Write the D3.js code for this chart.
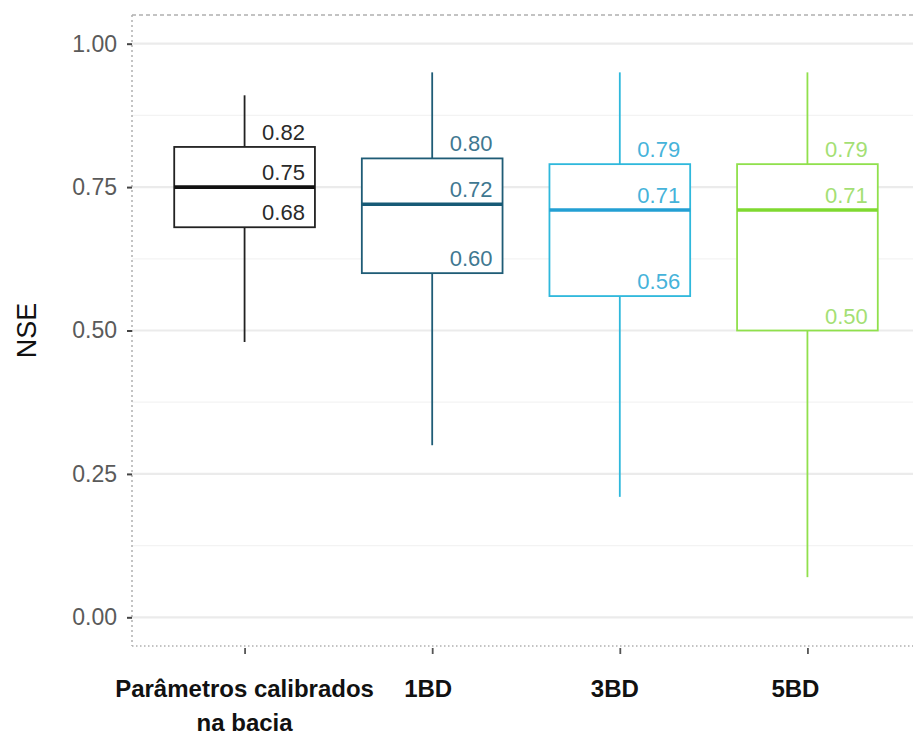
<!DOCTYPE html>
<html>
<head>
<meta charset="utf-8">
<script src="https://cdn.jsdelivr.net/npm/d3@7"></script>
<style>
  html, body { margin: 0; padding: 0; background: #fff; }
  svg { display: block; }
</style>
</head>
<body>
<svg id="chart" width="913" height="736"></svg>
<script>
// NSE distribution per parameter set
const categories = ["Parâmetros calibrados na bacia", "1BD", "3BD", "5BD"];
const categoryLines = [["Parâmetros calibrados", "na bacia"], ["1BD"], ["3BD"], ["5BD"]];
const whiskerLow  = [0.48, 0.30, 0.21, 0.07];
const q1          = [0.68, 0.60, 0.56, 0.50];
const medians     = [0.75, 0.72, 0.71, 0.71];
const q3          = [0.82, 0.80, 0.79, 0.79];
const whiskerHigh = [0.91, 0.95, 0.95, 0.95];
const yTicks      = [0, 0.25, 0.5, 0.75, 1];
const yMinorTicks = [0.125, 0.375, 0.625, 0.875];

const strokeColors = ["#222222", "#1f5c76", "#2fb8dc", "#90e04c"];
const medianColors = ["#111111", "#175a76", "#239fd3", "#7fd930"];
const labelColors  = ["#2a2a2a", "#3f7891", "#46b3da", "#a4df74"];
// small horizontal nudges of the category captions under their ticks
const captionNudge = [0, -4, -5, -12];

const svg = d3.select("#chart");

const panel = { left: 132, right: 920, top: 15, bottom: 646 };

const x = d3.scalePoint()
  .domain(categories)
  .range([panel.left, panel.right])
  .padding(0.6);

const y = d3.scaleLinear()
  .domain([-0.05, 1.05])
  .range([panel.bottom, panel.top]);

const boxWidth = x.step() * 0.75;

// grid
const grid = svg.append("g");
grid.selectAll("line.minor").data(yMinorTicks).join("line")
  .attr("class", "minor")
  .attr("x1", panel.left).attr("x2", panel.right)
  .attr("y1", d => y(d)).attr("y2", d => y(d))
  .attr("stroke", "#f3f3f3").attr("stroke-width", 1.2);
grid.selectAll("line.major").data(yTicks).join("line")
  .attr("class", "major")
  .attr("x1", panel.left).attr("x2", panel.right)
  .attr("y1", d => y(d)).attr("y2", d => y(d))
  .attr("stroke", "#ebebeb").attr("stroke-width", 2.2);

// panel border
const border = svg.append("g").attr("fill", "none").attr("stroke", "#b0b0b0");
border.append("line")
  .attr("x1", panel.left).attr("x2", panel.right)
  .attr("y1", panel.top).attr("y2", panel.top)
  .attr("stroke-width", 1.5).attr("stroke-dasharray", "4,3");
border.append("line")
  .attr("x1", panel.left).attr("x2", panel.left)
  .attr("y1", panel.top).attr("y2", panel.bottom)
  .attr("stroke-width", 1.5).attr("stroke-dasharray", "2,3");
border.append("line")
  .attr("x1", panel.left).attr("x2", panel.right)
  .attr("y1", panel.bottom).attr("y2", panel.bottom)
  .attr("stroke-width", 1.5).attr("stroke-dasharray", "1.5,2.5");

// boxplots
const rows = categories.map((c, i) => ({
  c, i,
  lo: whiskerLow[i], q1: q1[i], med: medians[i], q3: q3[i], hi: whiskerHigh[i]
}));

const boxes = svg.append("g").selectAll("g").data(rows).join("g");

boxes.append("line")
  .attr("x1", d => x(d.c)).attr("x2", d => x(d.c))
  .attr("y1", d => y(d.hi)).attr("y2", d => y(d.q3))
  .attr("stroke", d => strokeColors[d.i]).attr("stroke-width", 1.8);
boxes.append("line")
  .attr("x1", d => x(d.c)).attr("x2", d => x(d.c))
  .attr("y1", d => y(d.q1)).attr("y2", d => y(d.lo))
  .attr("stroke", d => strokeColors[d.i]).attr("stroke-width", 1.8);
boxes.append("rect")
  .attr("x", d => x(d.c) - boxWidth / 2)
  .attr("width", boxWidth)
  .attr("y", d => y(d.q3))
  .attr("height", d => y(d.q1) - y(d.q3))
  .attr("fill", "#fff")
  .attr("stroke", d => strokeColors[d.i]).attr("stroke-width", 1.8);
boxes.append("line")
  .attr("x1", d => x(d.c) - boxWidth / 2).attr("x2", d => x(d.c) + boxWidth / 2)
  .attr("y1", d => y(d.med)).attr("y2", d => y(d.med))
  .attr("stroke", d => medianColors[d.i]).attr("stroke-width", 3.6);

// value labels above q3, median, q1
const fmt = d3.format(".2f");
boxes.each(function(d) {
  const g = d3.select(this);
  [d.q3, d.med, d.q1].forEach(v => {
    g.append("text")
      .attr("x", x(d.c) + boxWidth / 2 - 10)
      .attr("y", y(v) - 7)
      .attr("text-anchor", "end")
      .attr("font-family", "Liberation Sans, Arial, sans-serif")
      .attr("font-size", 22)
      .attr("fill", labelColors[d.i])
      .text(fmt(v));
  });
});

// y axis
const yAxis = svg.append("g")
  .attr("transform", `translate(${panel.left},0)`)
  .call(d3.axisLeft(y).tickValues(yTicks).tickFormat(fmt).tickSize(5).tickPadding(10));
yAxis.select(".domain").remove();
yAxis.selectAll(".tick line").attr("stroke", "#444").attr("stroke-width", 2);
yAxis.selectAll(".tick text")
  .attr("font-family", "Liberation Sans, Arial, sans-serif")
  .attr("font-size", 23)
  .attr("fill", "#5a5a5a");

// x axis ticks
const xAxis = svg.append("g")
  .attr("transform", `translate(0,${panel.bottom + 2})`)
  .call(d3.axisBottom(x).tickSize(6).tickFormat(""));
xAxis.select(".domain").remove();
xAxis.selectAll(".tick line").attr("stroke", "#555").attr("stroke-width", 1.8);

// x category captions
const xLabels = svg.append("g");
rows.forEach(d => {
  const t = xLabels.append("text")
    .attr("text-anchor", "middle")
    .attr("font-family", "Liberation Sans Narrow, Arial Narrow, sans-serif")
    .attr("font-weight", "bold")
    .attr("font-size", 24)
    .attr("fill", "#111");
  categoryLines[d.i].forEach((line, k) => {
    t.append("tspan")
      .attr("x", x(d.c) + captionNudge[d.i])
      .attr("y", 697 + k * 34)
      .text(line);
  });
});

// y title
svg.append("text")
  .attr("transform", `translate(36,${(panel.top + panel.bottom) / 2}) rotate(-90)`)
  .attr("text-anchor", "middle")
  .attr("font-family", "Liberation Sans, Arial, sans-serif")
  .attr("font-size", 27)
  .attr("fill", "#111")
  .text("NSE");
</script>
</body>
</html>
